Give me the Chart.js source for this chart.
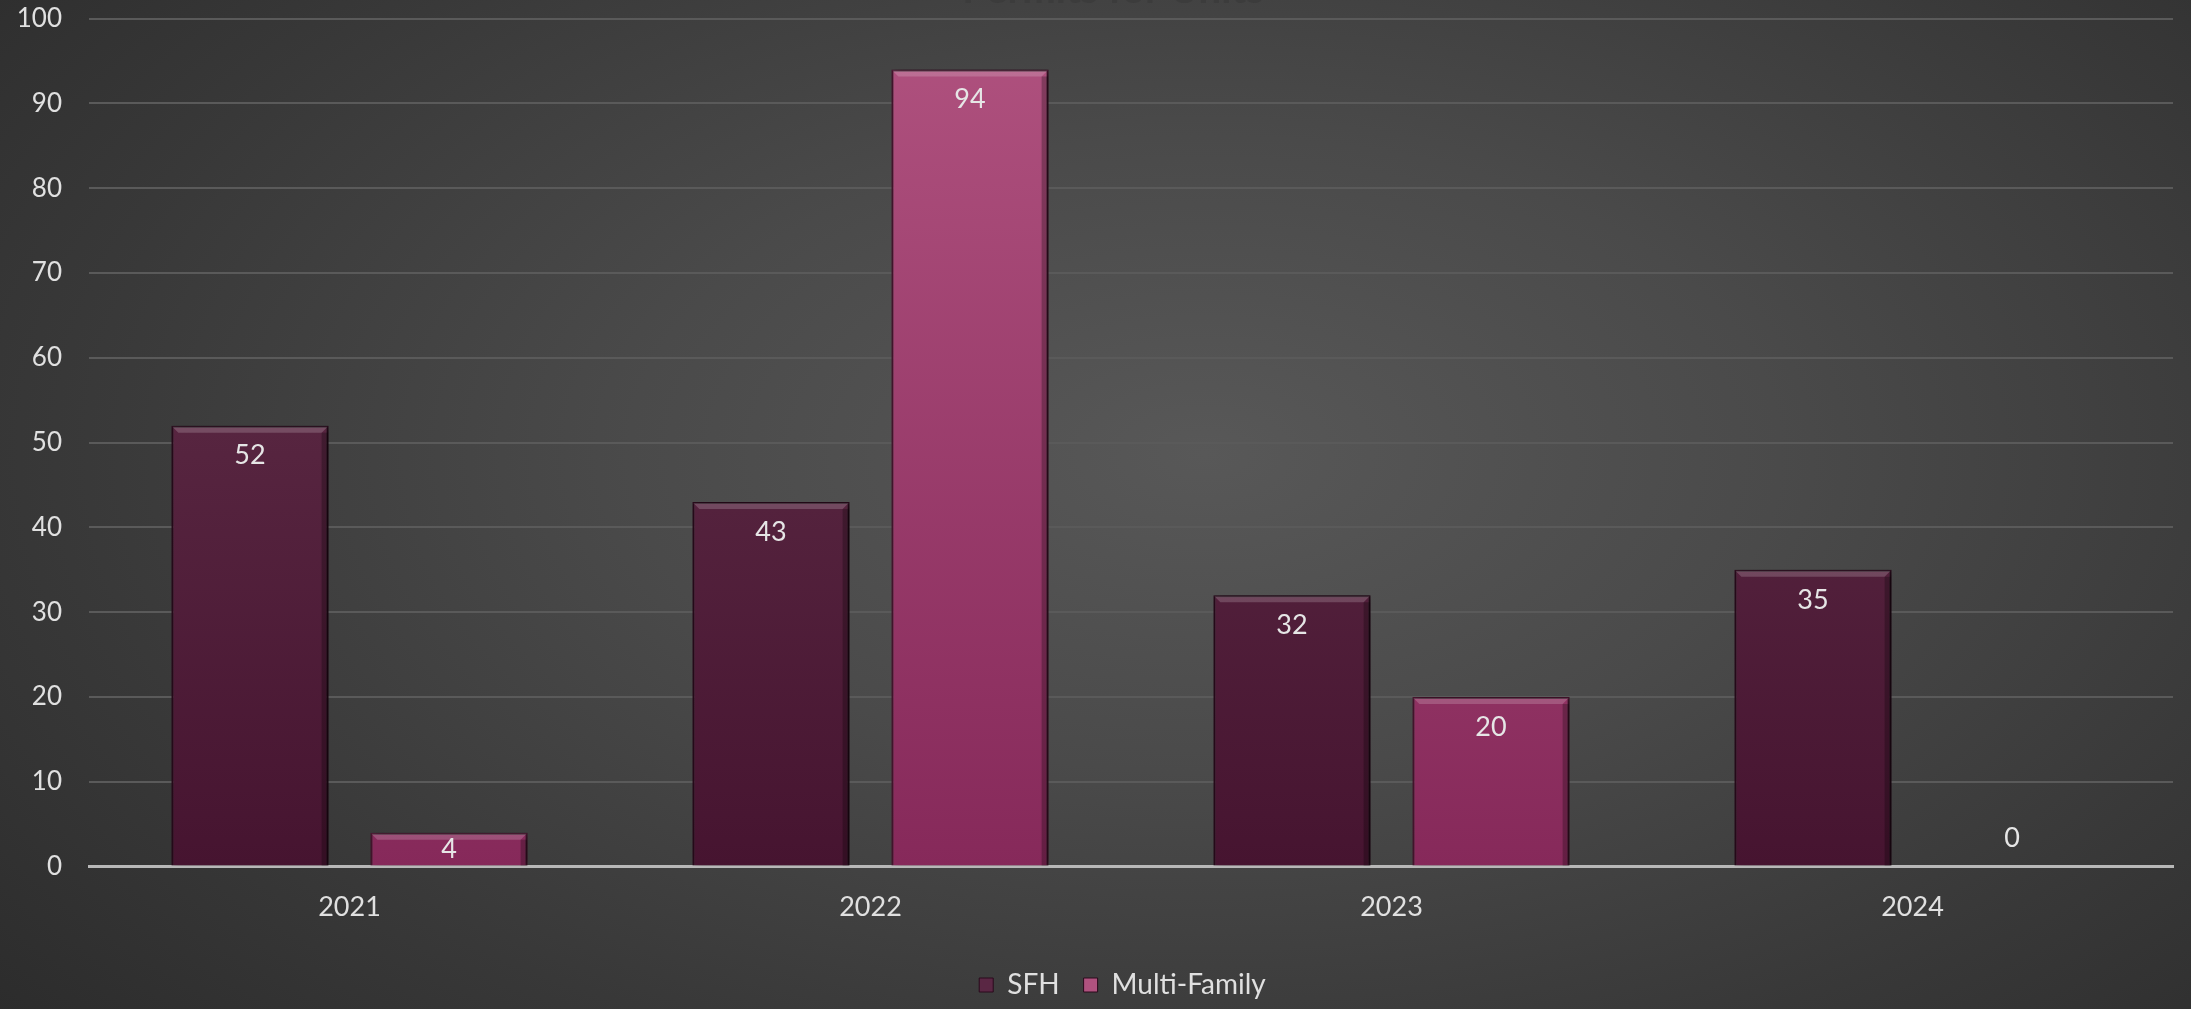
<!DOCTYPE html>
<html>
<head>
<meta charset="utf-8">
<script src="https://cdn.jsdelivr.net/npm/chart.js@4/dist/chart.umd.min.js"></script>
<style>
  html, body { margin: 0; padding: 0; }
  body {
    width: 2191px; height: 1009px; overflow: hidden;
    background: radial-gradient(ellipse 75% 90% at 55% 45%, #585858 0%, #4a4a4a 35%, #383838 70%, #2a2a2a 100%);
  }
  #wrap { width: 2191px; height: 1009px; position: relative; overflow: hidden; }
  #myChart { position: absolute; left: 0; top: -24px; }
</style>
</head>
<body>
<div id="wrap"><canvas id="myChart" width="2191" height="1033"></canvas></div>
<script>
// chart data
var years = ["2021", "2022", "2023", "2024"];
var sfh = [52, 43, 32, 35];
var multiFamily = [4, 94, 20, 0];
var seriesNames = ["SFH", "Multi-Family"];
var yTicks = [0, 10, 20, 30, 40, 50, 60, 70, 80, 90, 100];
var chartTitle = "Permits for Units";

function barGradient(ctx, top, bottom) {
  var chart = ctx.chart;
  var area = chart.chartArea;
  if (!area) return bottom;
  var g = chart.ctx.createLinearGradient(0, area.top, 0, area.bottom);
  g.addColorStop(0, top);
  g.addColorStop(1, bottom);
  return g;
}

// soft shadow behind the bars
var barShadow = {
  id: 'barShadow',
  beforeDatasetsDraw: function(chart) {
    var ctx = chart.ctx;
    ctx.save();
    ctx.shadowColor = 'rgba(0,0,0,0.55)';
    ctx.shadowBlur = 8;
    ctx.shadowOffsetX = 3;
    ctx.shadowOffsetY = 0;
  },
  afterDatasetsDraw: function(chart) {
    chart.ctx.restore();
  }
};

// bevel edges + value labels
var valueLabels = {
  id: 'valueLabels',
  afterDatasetsDraw: function(chart) {
    var ctx = chart.ctx;
    var base = chart.scales.y.getPixelForValue(0);
    ctx.save();
    chart.data.datasets.forEach(function(ds, i) {
      chart.getDatasetMeta(i).data.forEach(function(bar, j) {
        if (ds.data[j] === 0) return;
        var l = bar.x - bar.width / 2, r = bar.x + bar.width / 2, t = bar.y;
        ctx.fillStyle = 'rgba(255,255,255,0.18)';
        ctx.beginPath();
        ctx.moveTo(l + 1, t + 1); ctx.lineTo(r - 1, t + 1);
        ctx.lineTo(r - 7, t + 7); ctx.lineTo(l + 7, t + 7);
        ctx.closePath(); ctx.fill();
        ctx.fillStyle = 'rgba(0,0,0,0.25)';
        ctx.fillRect(r - 7, t + 7, 6, base - t - 8);
      });
    });
    ctx.font = '27px Lato';
    ctx.fillStyle = '#e6e6e6';
    ctx.textAlign = 'center';
    ctx.textBaseline = 'middle';
    chart.data.datasets.forEach(function(ds, i) {
      chart.getDatasetMeta(i).data.forEach(function(bar, j) {
        var v = ds.data[j];
        var y = v === 0 ? base - 28 : Math.min(bar.y + 30, base - 17);
        ctx.fillText(String(v), bar.x, y);
      });
    });
    ctx.restore();
  }
};

// title sits mostly above the top edge, only its bottom shows
var clippedTitle = {
  id: 'clippedTitle',
  afterDraw: function(chart) {
    var ctx = chart.ctx;
    ctx.save();
    ctx.font = 'bold 40px Lato';
    ctx.fillStyle = '#3c3c3c';
    ctx.textAlign = 'center';
    ctx.textBaseline = 'alphabetic';
    ctx.fillText(chartTitle, 1113, 27);
    ctx.restore();
  }
};

// nudge legend to the right like the original
var legendShift = {
  id: 'legendShift',
  afterLayout: function(chart) {
    if (chart.legend) { chart.legend.left += 54; }
  }
};

var ctx = document.getElementById('myChart').getContext('2d');
var chart = new Chart(ctx, {
  type: 'bar',
  data: {
    labels: years,
    datasets: [{
      label: seriesNames[0],
      data: sfh,
      backgroundColor: function(c) { return barGradient(c, '#67354f', '#461430'); },
      borderColor: '#2a0a1c',
      borderWidth: 2,
      categoryPercentage: 0.764,
      barPercentage: 0.79
    }, {
      label: seriesNames[1],
      data: multiFamily,
      backgroundColor: function(c) { return barGradient(c, '#b0527f', '#86295a'); },
      borderColor: '#4a1530',
      borderWidth: 2,
      categoryPercentage: 0.764,
      barPercentage: 0.79
    }]
  },
  options: {
    responsive: false,
    animation: false,
    layout: { padding: { top: 2, left: 18, right: 18, bottom: 0 } },
    scales: {
      x: {
        grid: { display: false, drawTicks: false },
        border: { display: true, color: '#b8b8b8', width: 3 },
        ticks: { color: '#e0e0e0', font: { family: 'Lato', size: 27 }, padding: 24 }
      },
      y: {
        min: 0, max: 100,
        afterBuildTicks: function(axis) {
          axis.ticks = yTicks.map(function(v) { return { value: v }; });
        },
        afterFit: function(axis) { axis.width = 71; },
        grid: { color: '#5a5a5a', lineWidth: 2, drawTicks: false },
        border: { display: false },
        ticks: { color: '#e0e0e0', font: { family: 'Lato', size: 26 }, padding: 27 }
      }
    },
    plugins: {
      legend: {
        position: 'bottom',
        labels: {
          color: '#e0e0e0',
          font: { family: 'Lato', size: 28 },
          boxWidth: 14, boxHeight: 14,
          padding: 24,
          generateLabels: function(chart) {
            var fills = ['#5a2744', '#b0527f'];
            return chart.data.datasets.map(function(ds, i) {
              return { text: ds.label, fillStyle: fills[i], strokeStyle: '#2a0a1c', lineWidth: 1, datasetIndex: i, fontColor: '#e0e0e0' };
            });
          }
        }
      },
      tooltip: { enabled: false }
    }
  },
  plugins: [barShadow, valueLabels, clippedTitle, legendShift]
});
</script>
</body>
</html>
